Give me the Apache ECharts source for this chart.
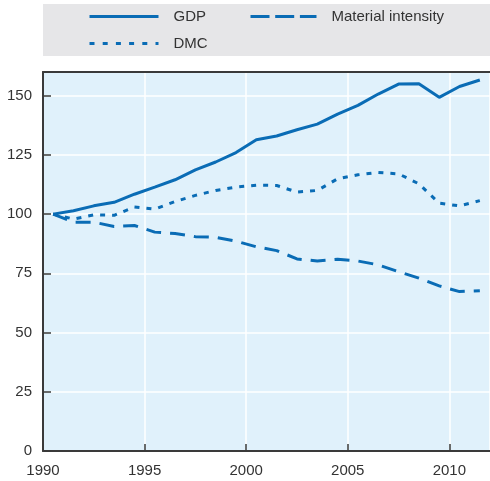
<!DOCTYPE html>
<html>
<head>
<meta charset="utf-8">
<script src="https://cdn.jsdelivr.net/npm/echarts@6/dist/echarts.min.js"></script>
<style>
html,body{margin:0;padding:0;background:#fff;}
#chart{width:490px;height:481px;}
</style>
</head>
<body>
<div id="chart"></div>
<script>
// Data (index values, 1990 = 100)
var years = [1990,1991,1992,1993,1994,1995,1996,1997,1998,1999,2000,2001,2002,2003,2004,2005,2006,2007,2008,2009,2010,2011];
var gdp = [100,101.4,103.5,105,108.4,111.4,114.5,118.7,122,126,131.4,133,135.6,138,142.2,145.9,150.7,154.9,155,149.3,153.9,156.6];
var dmc = [100,97.9,99.7,99.5,103,102.1,105.3,107.9,110,111.4,112.2,112.1,109.3,110,114.9,116.6,117.6,117,112.8,104.6,103.5,105.7];
var materialIntensity = [100,96.6,96.6,94.8,95.2,92.4,91.8,90.5,90.2,88.6,86.2,84.6,81.1,80.2,80.9,80.2,78.6,75.7,73,69.7,67.3,67.7];
var seriesNames = ['GDP','DMC','Material intensity'];
var xTicks = [1990,1995,2000,2005,2010];
var yTicks = [0,25,50,75,100,125,150];

// Annual values are plotted at mid-year
function pairs(vals){ return years.map(function(y,i){ return [y + 0.5, vals[i]]; }); }

var FONT = '"Liberation Sans Narrow","Liberation Sans",Arial,sans-serif';
var BLUE = '#0a6cb5';
var AXIS = '#3a3a3a';
var TXT = '#333333';

var chart = echarts.init(document.getElementById('chart'), null, {renderer:'canvas'});

function legendCfg(name, left, top, w, dash){
  return {
    data:[name], left:left, top:top, padding:0, orient:'horizontal',
    itemWidth:w, itemHeight:4, selectedMode:false,
    itemStyle:{color:'rgba(0,0,0,0)', borderWidth:0},
    lineStyle:{width:3, color:BLUE, type:dash, cap:'butt'},
    textStyle:{fontFamily:FONT, fontSize:15, color:TXT, padding:[0,0,0,10]}
  };
}

var option = {
  animation:false,
  graphic:[{
    type:'rect', z:-10, silent:true,
    shape:{x:43, y:4, width:460, height:52},
    style:{fill:'#e6e6e8'}
  }],
  legend:[
    legendCfg(seriesNames[0], 88, 9, 69, 'solid'),
    legendCfg(seriesNames[1], 88, 36, 69, [5,8.2]),
    legendCfg(seriesNames[2], 249, 9, 66, [19,5.7])
  ],
  grid:{left:43, right:-3, top:72, bottom:30, show:true, backgroundColor:'#e0f1fb', borderWidth:0, containLabel:false},
  xAxis:[{
    type:'value', min:1990, max:2012, interval:5,
    axisLine:{show:true, onZero:false, lineStyle:{color:AXIS, width:2}},
    axisTick:{show:true, inside:true, length:7, lineStyle:{color:AXIS, width:1.5}},
    axisLabel:{fontFamily:FONT, fontSize:15, color:TXT, margin:12, showMaxLabel:false,
      formatter:function(v){ return xTicks.indexOf(v) >= 0 ? String(v) : ''; }},
    splitLine:{show:true, lineStyle:{color:'#ffffff', width:1.5}}
  },{
    type:'value', position:'top', min:1990, max:2012,
    axisLine:{show:true, onZero:false, lineStyle:{color:AXIS, width:2}},
    axisTick:{show:false}, axisLabel:{show:false}, splitLine:{show:false}
  }],
  yAxis:{
    type:'value', min:0, max:160, interval:25,
    axisLine:{show:true, onZero:false, lineStyle:{color:AXIS, width:2}},
    axisTick:{show:true, inside:true, length:8, lineStyle:{color:AXIS, width:1.5}},
    axisLabel:{fontFamily:FONT, fontSize:15, color:TXT, margin:11, showMaxLabel:false,
      formatter:function(v){ return yTicks.indexOf(v) >= 0 ? String(v) : ''; }},
    splitLine:{show:true, lineStyle:{color:'#ffffff', width:1.5}}
  },
  series:[
    {name:seriesNames[0], type:'line', data:pairs(gdp), symbol:'none', z:3,
      lineStyle:{color:BLUE, width:3, type:'solid'}, itemStyle:{color:BLUE}},
    {name:seriesNames[1], type:'line', data:pairs(dmc), symbol:'none', z:3,
      lineStyle:{color:BLUE, width:3, type:[5,7], cap:'butt'}, itemStyle:{color:BLUE}},
    {name:seriesNames[2], type:'line', data:pairs(materialIntensity), symbol:'none', z:3,
      lineStyle:{color:BLUE, width:3, type:[15,9], cap:'butt'}, itemStyle:{color:BLUE}}
  ]
};
chart.setOption(option);
</script>
</body>
</html>
